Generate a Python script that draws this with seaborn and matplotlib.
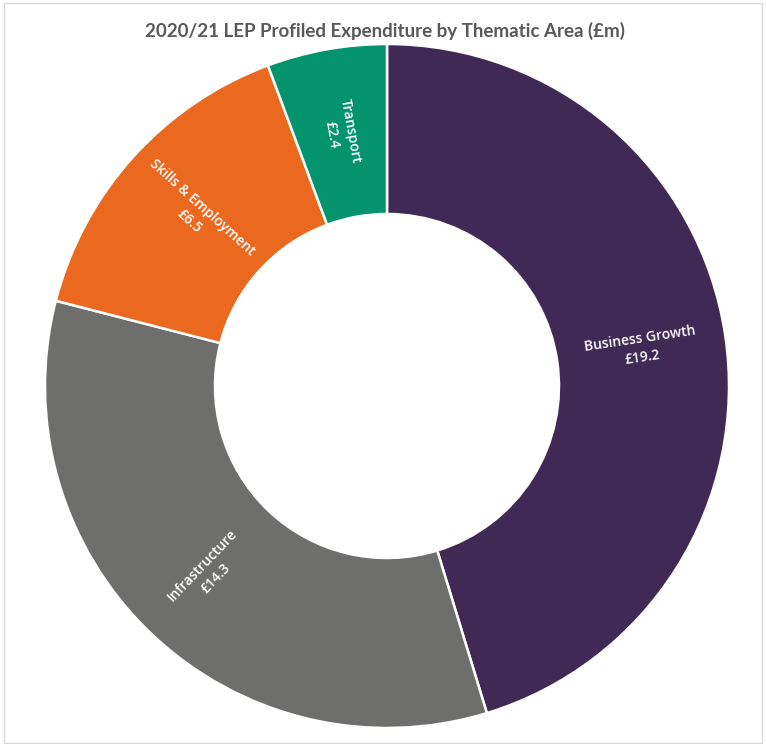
import numpy as np
import matplotlib
matplotlib.use("Agg")
import matplotlib.pyplot as plt
import seaborn as sns
from matplotlib.patches import Rectangle

categories = ["Business Growth", "Infrastructure", "Skills & Employment", "Transport"]
values = [19.2, 14.3, 6.5, 2.4]
value_labels = ["£19.2", "£14.3", "£6.5", "£2.4"]
colors = ["#412956", "#6e6f6d", "#eb681f", "#03946e"]
title = "2020/21 LEP Profiled Expenditure by Thematic Area (£m)"

sns.set_theme(style="white")
plt.rcParams['font.family'] = ['Lato', 'DejaVu Sans']

fig = plt.figure(figsize=(7.66, 7.44), dpi=100)
cx, cy, R = 387, 386, 342
W, H = 766, 744
ax = fig.add_axes([(cx - R) / W, (H - cy - R) / H, 2 * R / W, 2 * R / H])

inner = 172 / 342
wedges, _ = ax.pie(values, colors=colors, startangle=90, counterclock=False,
                   radius=1.0, wedgeprops=dict(width=1 - inner, edgecolor="white", linewidth=1.8))
ax.set_xlim(-1, 1)
ax.set_ylim(-1, 1)
ax.set_aspect("equal")
ax.axis("off")

rmid = (1 + inner) / 2
for w, cat, vl in zip(wedges, categories, value_labels):
    ang = (w.theta1 + w.theta2) / 2
    a = np.deg2rad(ang)
    x, y = rmid * np.cos(a), rmid * np.sin(a)
    rot = ang % 360
    if 90 < rot < 270:
        rot -= 180
    elif rot >= 270:
        rot -= 360
    ax.text(x, y, f"{cat}\n{vl}", ha="center", va="center", rotation=rot,
            rotation_mode="anchor", color="white", fontsize=10, fontweight="semibold",
            family=["Open Sans", "DejaVu Sans"], linespacing=1.45)

fig.text(0.503, 0.958, title, ha="center", va="center", fontsize=13.5,
         fontweight="bold", color="#595959")

fig.patches.append(Rectangle((4 / W, 1 / H), (W - 8) / W, (H - 4) / H, transform=fig.transFigure,
                             fill=False, edgecolor="#d9d9d9", linewidth=1))

fig.savefig("out.png", dpi=100, facecolor="white")
